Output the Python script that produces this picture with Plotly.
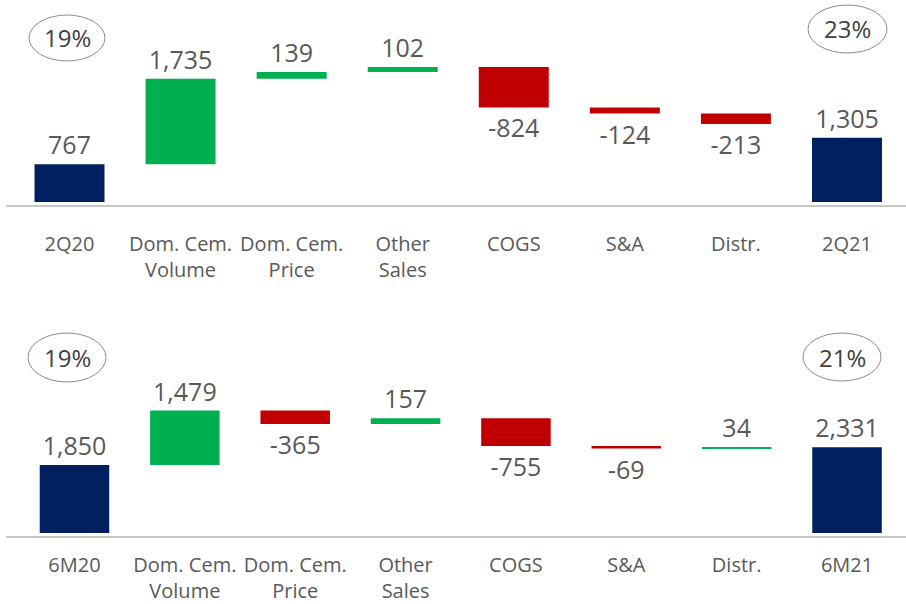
import plotly.graph_objects as go

# ---- data ----
top_categories = ["2Q20", "Dom. Cem.<br>Volume", "Dom. Cem.<br>Price", "Other<br>Sales", "COGS", "S&A", "Distr.", "2Q21"]
top_values = [767, 1735, 139, 102, -824, -124, -213, 1305]
top_measures = ["absolute", "relative", "relative", "relative", "relative", "relative", "relative", "absolute"]
top_margin_start = "19%"
top_margin_end = "23%"

bot_categories = ["6M20", "Dom. Cem.<br>Volume", "Dom. Cem.<br>Price", "Other<br>Sales", "COGS", "S&A", "Distr.", "6M21"]
bot_values = [1850, 1479, -365, 157, -755, -69, 34, 2331]
bot_measures = ["absolute", "relative", "relative", "relative", "relative", "relative", "relative", "absolute"]
bot_margin_start = "19%"
bot_margin_end = "21%"

NAVY = "#002060"
GREEN = "#00B050"
RED = "#C00000"
GRAY_TXT = "#595959"
FONT = "Open Sans"

W, H = 906, 604
L = 6


def wf(cats, vals, measures, xa, ya):
    return go.Waterfall(
        x=list(range(len(cats))), y=vals, measure=measures,
        xaxis=xa, yaxis=ya,
        text=[f"{v:,}" for v in vals],
        textposition="outside",
        textfont=dict(family=FONT, size=25, color=GRAY_TXT),
        constraintext="none",
        cliponaxis=False,
        width=0.63,
        connector=dict(visible=False),
        increasing=dict(marker=dict(color=GREEN)),
        decreasing=dict(marker=dict(color=RED)),
        totals=dict(marker=dict(color=NAVY)),
        showlegend=False,
        hoverinfo="skip",
    )


fig = go.Figure()
fig.add_trace(wf(top_categories, top_values, top_measures, "x", "y"))
fig.add_trace(wf(bot_categories, bot_values, bot_measures, "x2", "y2"))

axis_common = dict(
    showline=True, linecolor="#C8C8C8", linewidth=1.5,
    showgrid=False, zeroline=False, ticks="",
    tickfont=dict(family=FONT, size=20, color=GRAY_TXT),
    automargin=False,
    fixedrange=True,
)

TS = 20.3   # value units per pixel, top panel
BS = 27.2   # value units per pixel, bottom panel

fig.update_layout(
    width=W, height=H,
    margin=dict(l=L, r=0, t=0, b=0, autoexpand=False),
    paper_bgcolor="white", plot_bgcolor="white",
    xaxis=dict(domain=[0, 1], anchor="y",
               range=[(6 - 69.5) / 111.07, (906 - 69.5) / 111.07],
               tickvals=list(range(len(top_categories))), ticktext=top_categories,
               ticklabelstandoff=20,
               **axis_common),
    yaxis=dict(domain=[1 - 205 / H, 1 - 10 / H], range=[-3 * TS, 192 * TS], visible=False,
               fixedrange=True, automargin=False),
    xaxis2=dict(domain=[0, 1], anchor="y2",
                range=[(6 - 74.5) / 110.36, (906 - 74.5) / 110.36],
                tickvals=list(range(len(bot_categories))), ticktext=bot_categories,
                ticklabelstandoff=10,
                **axis_common),
    yaxis2=dict(domain=[1 - 536 / H, 1 - 340 / H], range=[-3 * BS, 193 * BS], visible=False,
                fixedrange=True, automargin=False),
)


def px_x(p):
    return (p - L) / (W - L)


def px_y(p):
    return 1 - p / H


ellipses = [
    (29, 15, 105, 61, top_margin_start),
    (808, 5, 887, 53, top_margin_end),
    (28, 333, 106, 382, bot_margin_start),
    (803, 333, 881, 381, bot_margin_end),
]
for x0, y0, x1, y1, label in ellipses:
    fig.add_shape(type="circle", xref="paper", yref="paper",
                  x0=px_x(x0), x1=px_x(x1), y0=px_y(y1), y1=px_y(y0),
                  line=dict(color="#8C8C8C", width=1), fillcolor="rgba(0,0,0,0)")
    fig.add_annotation(xref="paper", yref="paper",
                       x=px_x((x0 + x1) / 2), y=px_y((y0 + y1) / 2),
                       text=label, showarrow=False,
                       font=dict(family=FONT, size=24, color="#404040"),
                       xanchor="center", yanchor="middle")

fig.write_html("out.html",
               config={"displayModeBar": False},
               post_script="document.body.style.margin='0';document.body.style.overflow='hidden';")
